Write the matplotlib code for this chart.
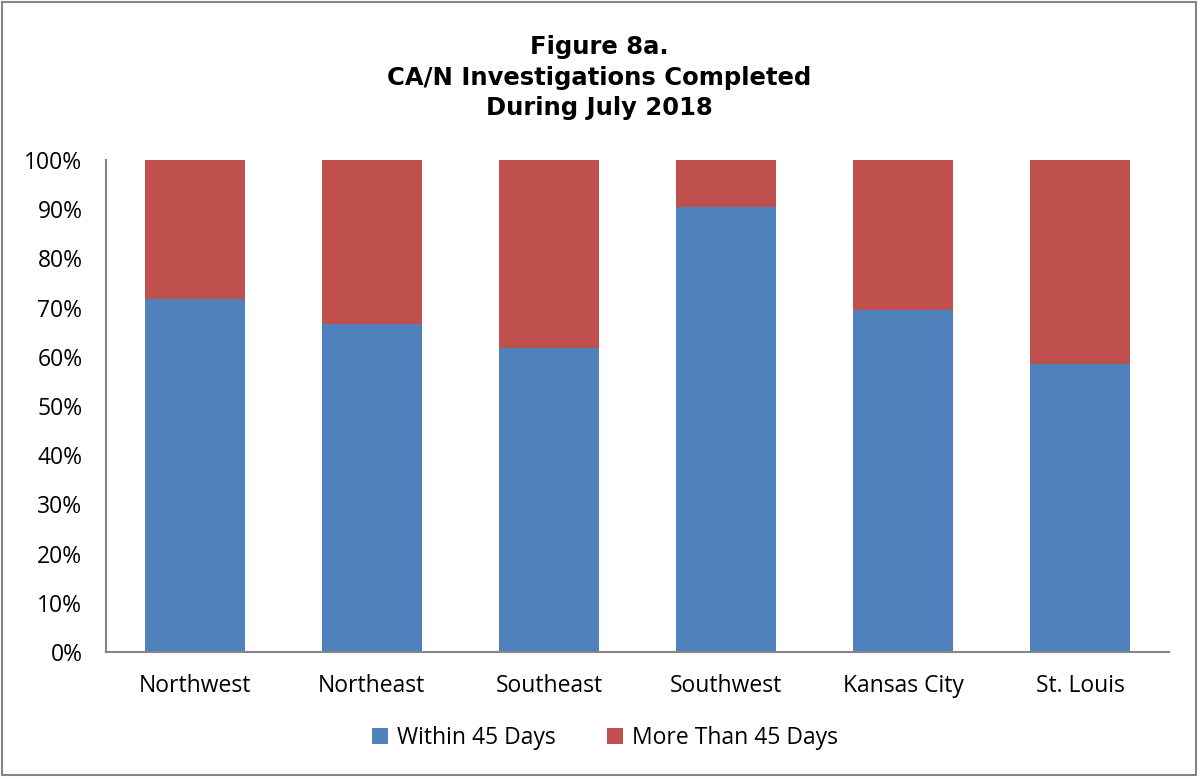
import numpy as np
import matplotlib.pyplot as plt
from matplotlib.ticker import PercentFormatter
from matplotlib.patches import Rectangle

#%% data
regions = ['Northwest', 'Northeast', 'Southeast', 'Southwest', 'Kansas City', 'St. Louis']
within = [71.7, 66.7, 61.8, 90.4, 69.5, 58.5]  # % within 45 days
more = [100 - w for w in within]             # % more than 45 days

blue = '#4F81BD'
red = '#C0504D'

#%% plot
fig = plt.figure(figsize=(11.98, 7.77), dpi=100)
ax = fig.add_axes([0.0885, 0.1609, 0.8873, 0.6332])

x = np.arange(len(regions))
ax.bar(x, within, width=0.565, color=blue, label='Within 45 Days')
ax.bar(x, more, width=0.565, bottom=within, color=red, label='More Than 45 Days')

ax.set_xlim(-0.5, len(regions) - 0.5)
ax.set_ylim(0, 100)
ax.set_yticks(np.arange(0, 101, 10))
ax.yaxis.set_major_formatter(PercentFormatter(decimals=0))
ax.set_xticks(x)
ax.set_xticklabels(regions)
ax.tick_params(length=0, labelsize=16.5)
ax.tick_params(axis='x', pad=16)
ax.tick_params(axis='y', pad=17)
for lbl in ax.get_xticklabels() + ax.get_yticklabels():
    lbl.set_fontfamily('Open Sans')

for s in ['top', 'right']:
    ax.spines[s].set_visible(False)
for s in ['left', 'bottom']:
    ax.spines[s].set_color('#868686')
    ax.spines[s].set_linewidth(1.5)

fig.text(0.5, 0.9, 'Figure 8a.\nCA/N Investigations Completed\nDuring July 2018',
         ha='center', va='center', fontsize=17.5, fontweight='bold',
         family='DejaVu Sans', linespacing=1.35)

leg = fig.legend(loc='center', bbox_to_anchor=(0.505, 0.05), ncol=2, frameon=False,
                 prop={'family': 'Open Sans', 'size': 16.5}, handlelength=0.7,
                 handleheight=0.7, columnspacing=2.2, handletextpad=0.4)

# outer frame
fig.patches.append(Rectangle((0.002, 0.002), 0.996, 0.996, transform=fig.transFigure,
                             fill=False, edgecolor='#868686', linewidth=1.5))

fig.savefig('out.png', dpi=100)
